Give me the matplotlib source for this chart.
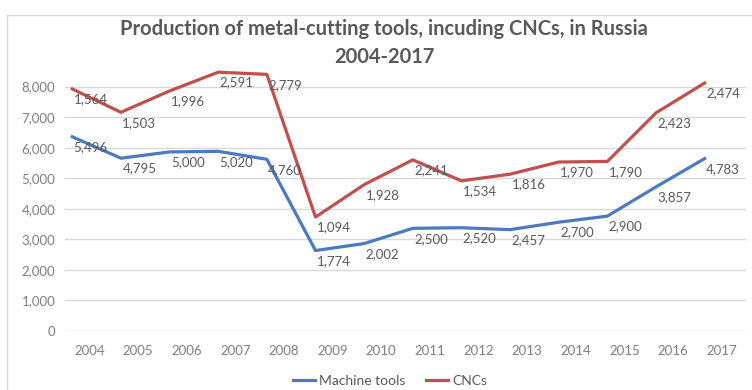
import matplotlib
matplotlib.use("Agg")
import matplotlib.pyplot as plt
from matplotlib.patches import Rectangle

plt.rcParams['font.family'] = ['Lato', 'DejaVu Sans']

#-------------------------------------------- Data --------------------------------------------#

years = [str(y) for y in range(2004, 2018)]
machine_tools = [5496, 4795, 5000, 5020, 4760, 1774, 2002, 2500, 2520, 2457, 2700, 2900, 3857, 4783]
cncs = [1564, 1503, 1996, 2591, 2779, 1094, 1928, 2241, 1534, 1816, 1970, 1790, 2423, 2474]

# CNC line is stacked on top of machine tools
cnc_top = [m + c for m, c in zip(machine_tools, cncs)]

#-------------------------------------------- Plot --------------------------------------------#

blue = '#4a7bc0'
red = '#c0504d'
grey = '#595959'

fig = plt.figure(figsize=(7.52, 3.90), dpi=100)
pos = [65 / 752, 59 / 390, 681 / 752, 275 / 390]

# axis with ticks and gridlines
ax = fig.add_axes(pos)
ax.set_xlim(-0.5, 13.5)
ax.set_ylim(0, 9000)
ax.set_yticks(range(0, 9000, 1000))
ax.set_yticklabels([f"{v:,}" for v in range(0, 9000, 1000)])
ax.set_xticks(range(len(years)))
ax.set_xticklabels(years)
ax.grid(axis='y', color='#d9d9d9', lw=1)
ax.set_axisbelow(True)
ax.tick_params(length=0, colors='#7f7f7f', labelsize=9.5)
ax.tick_params(axis='y', pad=7)
ax.tick_params(axis='x', pad=10)
for s in ax.spines.values():
    s.set_visible(False)

# line layer sits slightly up and left of the tick axis
lx = fig.add_axes(pos)
lx.set_xlim(-0.5 + 0.35, 13.5 + 0.35)
lx.set_ylim(-860, 9000 - 860)
lx.axis('off')
lx.patch.set_alpha(0)

x = list(range(len(years)))
l1, = lx.plot(x, machine_tools, color=blue, lw=2.3, solid_joinstyle='round', label='Machine tools')
l2, = lx.plot(x, cnc_top, color=red, lw=2.3, solid_joinstyle='round', label='CNCs')

for i in x:
    lx.annotate(f"{machine_tools[i]:,}", (i, machine_tools[i]), xytext=(1, -7.5),
                textcoords='offset points', ha='left', va='center', fontsize=9.5, color=grey)
    lx.annotate(f"{cncs[i]:,}", (i, cnc_top[i]), xytext=(1, -7.5),
                textcoords='offset points', ha='left', va='center', fontsize=9.5, color=grey)

fig.text(384 / 752, 1 - 29 / 390, "Production of metal-cutting tools, incuding CNCs, in Russia",
         ha='center', va='center', fontsize=14.5, fontweight='bold', color=grey)
fig.text(384 / 752, 1 - 57 / 390, "2004-2017",
         ha='center', va='center', fontsize=14.5, fontweight='bold', color=grey)

fig.legend(handles=[l1, l2], loc='center', bbox_to_anchor=(390 / 752, 1 - 381 / 390), ncol=2,
           frameon=False, fontsize=10, handlelength=1.6, columnspacing=1.5, handletextpad=0.3,
           labelcolor=grey)

fig.patches.append(Rectangle((7 / 752, -0.1), 1.1, (390 - 15) / 390 + 0.1, transform=fig.transFigure,
                             fill=False, ec='#d9d9d9', lw=1))

fig.savefig('out.png', dpi=100)
